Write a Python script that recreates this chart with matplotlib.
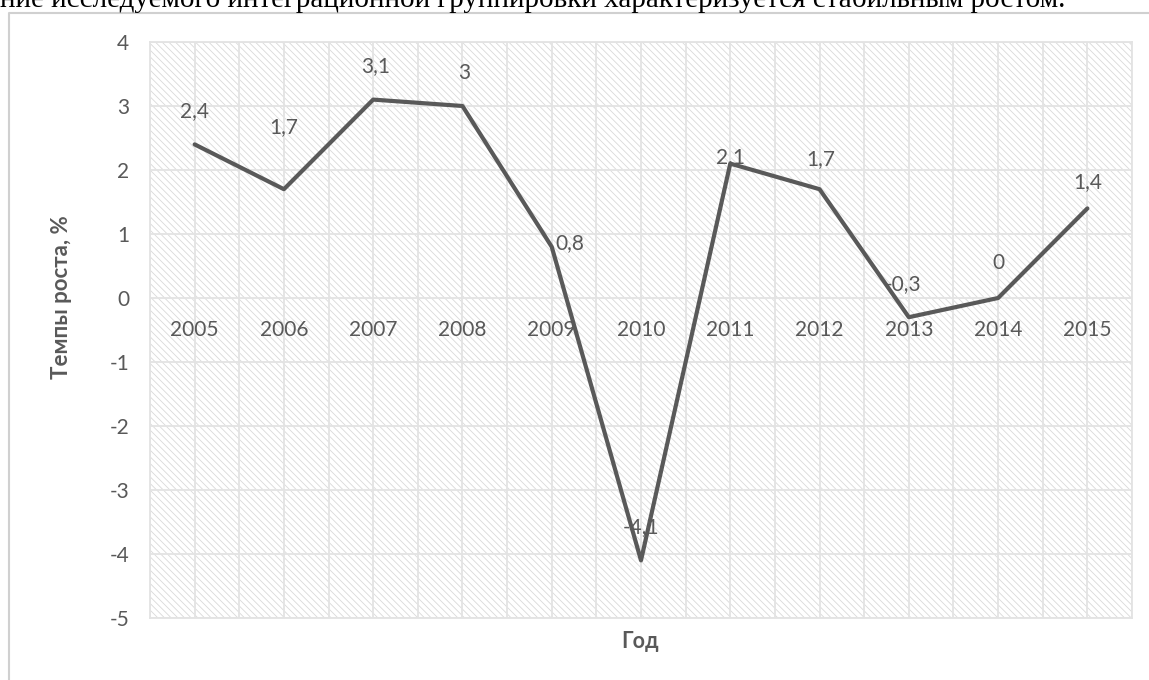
import matplotlib
matplotlib.use("Agg")
import matplotlib.pyplot as plt
from matplotlib.patches import Rectangle
from matplotlib.lines import Line2D

years = ["2005", "2006", "2007", "2008", "2009", "2010", "2011", "2012", "2013", "2014", "2015"]
growth = [2.4, 1.7, 3.1, 3.0, 0.8, -4.1, 2.1, 1.7, -0.3, 0.0, 1.4]
y_ticks = [4, 3, 2, 1, 0, -1, -2, -3, -4, -5]
# label offsets (points) relative to each data point
label_dx = [0, 0, 2, 1, 13, 0, 0, 1, -4, 0, 0]
label_dy = [24, 45, 24, 24, 3, 24, 5, 22, 24, 25, 19]

y_title = "Темпы роста, %"
x_title = "Год"
header = "ние исследуемого интеграционной группировки характеризуется стабильным ростом."

plt.rcParams['axes.unicode_minus'] = False
plt.rcParams['hatch.linewidth'] = 0.6

W, H = 1149, 680
fig = plt.figure(figsize=(W / 100, H / 100), dpi=100)
fig.patch.set_facecolor("white")

L, R, T, B = 150, 1132, 42, 618
ax = fig.add_axes([L / W, 1 - B / H, (R - L) / W, (B - T) / H])
ax.patch.set_facecolor("none")

txt_col = "#595959"
grid_col = "#e3e3e3"
font = "Lato"

x = list(range(len(years)))
ax.set_xlim(-0.5, len(years) - 0.5)
ax.set_ylim(-5, 4)

bg = Rectangle((0, 0), 1, 1, transform=ax.transAxes, facecolor="white",
               edgecolor="#d9d9d9", hatch="\\\\\\\\\\", lw=0, zorder=0.1)
ax.add_patch(bg)

ax.set_axisbelow(True)
ax.set_yticks(y_ticks)
ax.set_yticklabels([str(v) for v in y_ticks], fontsize=15, color=txt_col, family=font)
ax.set_xticks([i - 0.5 for i in range(len(years) + 1)] + x)
ax.set_xticklabels([])
ax.tick_params(axis="both", length=0)
ax.tick_params(axis="y", pad=15)
ax.grid(True, color=grid_col, lw=1.3, zorder=0.5)
for s in ax.spines.values():
    s.set_color(grid_col)
    s.set_linewidth(1.3)

ax.plot(x, growth, color="#595959", lw=3.0, solid_joinstyle="round",
        solid_capstyle="round", zorder=5, clip_on=False)

for i, v in enumerate(growth):
    lab = ("%g" % v).replace(".", ",")
    ax.annotate(lab, (i, v), xytext=(label_dx[i], label_dy[i]), textcoords="offset points",
                ha="center", va="center", fontsize=15, color=txt_col, family=font, zorder=3)
    ax.annotate(years[i], (i, 0), xytext=(0, -23), textcoords="offset points",
                ha="center", va="center", fontsize=15, color=txt_col, family=font, zorder=3)

fig.text(62 / W, 1 - 297 / H, y_title, rotation=90, ha="center", va="center",
         fontsize=16, fontweight="bold", color=txt_col, family=font)
fig.text(640 / W, 1 - 641 / H, x_title, ha="center", va="center",
         fontsize=15.5, fontweight="bold", color=txt_col, family=font)

fig.add_artist(Line2D([8.5 / W, 8.5 / W, 1.0], [0.0, 1 - 12.5 / H, 1 - 12.5 / H],
                      transform=fig.transFigure, color="#d0d0d0", lw=1.5))

fig.text(0.0, 1 - 7 / H, header, ha="left", va="baseline", fontsize=21,
         family="Liberation Serif", color="black")

fig.savefig("out.png", dpi=100, facecolor="white")
